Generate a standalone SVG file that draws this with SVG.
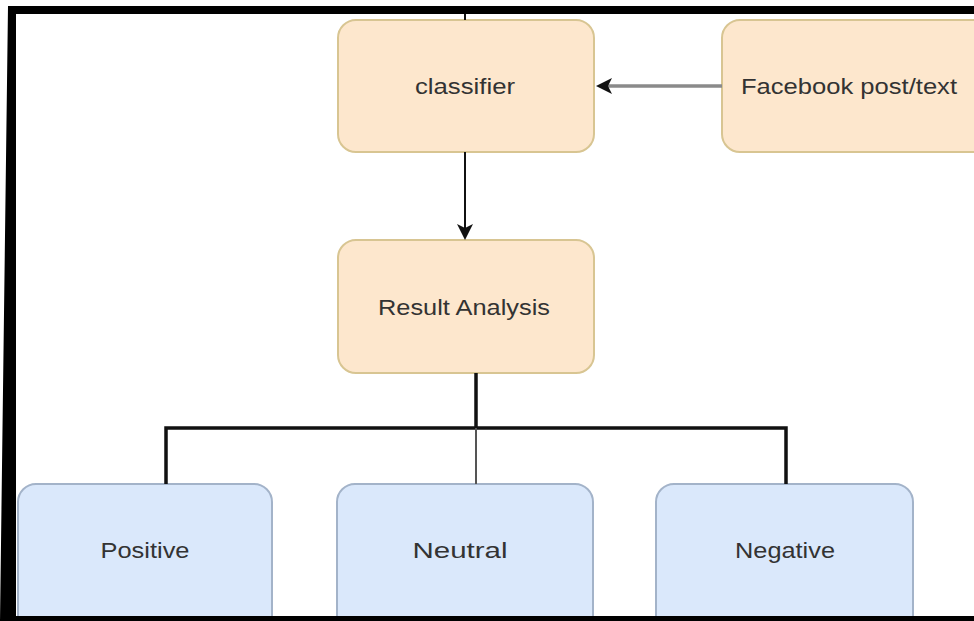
<svg xmlns="http://www.w3.org/2000/svg" width="974" height="621" viewBox="0 0 974 621">
  <style>
    .peach { fill: #fde7cd; stroke: #d8c592; stroke-width: 2; }
    .blue { fill: #dae8fb; stroke: #a3b3c9; stroke-width: 2; }
    .label { font-family: "Liberation Sans", Arial, sans-serif; font-size: 22px; fill: #333333; text-anchor: middle; }
    .edge { fill: none; stroke: #111; stroke-width: 3.5; }
    .head { fill: #111; }
  </style>
  <rect width="974" height="621" fill="#ffffff"/>

  <g id="classifier">
    <rect class="peach" x="338" y="20" width="256" height="132" rx="18"/>
    <text class="label" x="465" y="94" textLength="100" lengthAdjust="spacingAndGlyphs">classifier</text>
  </g>
  <g id="facebook-post">
    <rect class="peach" x="722" y="20" width="270" height="132" rx="18"/>
    <text class="label" x="849" y="94" textLength="216" lengthAdjust="spacingAndGlyphs">Facebook post/text</text>
  </g>
  <g id="result-analysis">
    <rect class="peach" x="338" y="240" width="256" height="133" rx="18"/>
    <text class="label" x="464" y="315" textLength="172" lengthAdjust="spacingAndGlyphs">Result Analysis</text>
  </g>
  <g id="positive">
    <rect class="blue" x="18" y="484" width="254" height="150" rx="18"/>
    <text class="label" x="145" y="558" textLength="89" lengthAdjust="spacingAndGlyphs">Positive</text>
  </g>
  <g id="neutral">
    <rect class="blue" x="337" y="484" width="256" height="150" rx="18"/>
    <text class="label" x="460" y="558" textLength="95" lengthAdjust="spacingAndGlyphs">Neutral</text>
  </g>
  <g id="negative">
    <rect class="blue" x="656" y="484" width="257" height="150" rx="18"/>
    <text class="label" x="785" y="558" textLength="100" lengthAdjust="spacingAndGlyphs">Negative</text>
  </g>

  <g id="connectors">
    <line x1="465" y1="12" x2="465" y2="20" stroke="#111" stroke-width="2"/>
    <!-- Facebook post/text -> classifier -->
    <line x1="722" y1="86" x2="604" y2="86" stroke="#8a8a8a" stroke-width="3.5"/>
    <path class="head" d="M612,78 L596,86 L612,94 L608,86 Z"/>
    <!-- classifier -> Result Analysis -->
    <line x1="465" y1="152" x2="465" y2="232" stroke="#111" stroke-width="2"/>
    <path class="head" d="M457,224 L465,240 L473,224 L465,228 Z"/>
    <!-- Result Analysis -> outcomes -->
    <path class="edge" d="M476,373 V428"/>
    <path class="edge" d="M166,484 V428 H786 V484"/>
    <line x1="476" y1="428" x2="476" y2="484" stroke="#555" stroke-width="2"/>
  </g>

  <!-- outer frame: top, left and bottom bands -->
  <path d="M8,6 H974 V14 H16 V616 H974 V621 H0 Z" fill="#000"/>
</svg>
